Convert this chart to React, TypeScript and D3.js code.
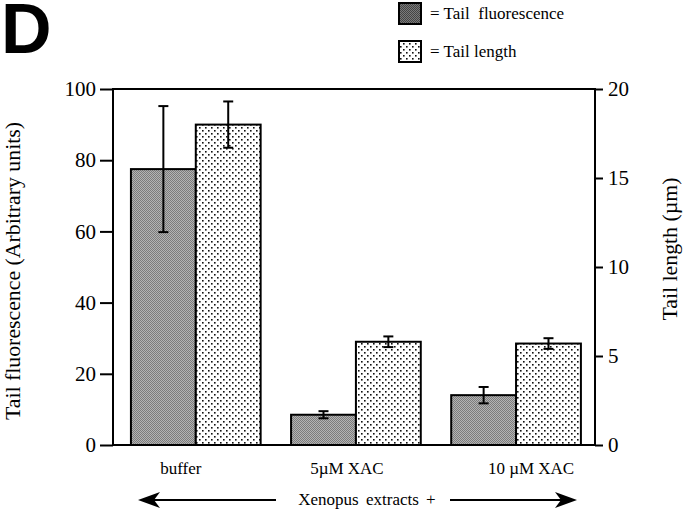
import React, { useEffect, useRef } from 'react';
import * as d3 from 'd3';

// groups along the x axis
const groups = ['buffer', '5\u00b5M XAC', '10 \u00b5M XAC'];
const groupLabelShift = [-15, -9, 15];

// tail fluorescence (arbitrary units), left axis
const fluorescence = [77.5, 8.5, 14];
const fluorescenceErr = [17.7, 1.0, 2.3];

// tail length (um), right axis
const tailLength = [18.0, 5.8, 5.7];
const tailLengthErr = [1.3, 0.3, 0.3];

const leftTicks = [0, 20, 40, 60, 80, 100];
const rightTicks = [0, 5, 10, 15, 20];

const serif = '"Liberation Serif", "Times New Roman", serif';

const App: React.FC = () => {
    const ref = useRef<SVGSVGElement>(null);

    useEffect(() => {
        document.body.style.margin = '0';
        const svg = d3.select(ref.current);
        svg.selectAll('*').remove();

        const left = 113, right = 595, top = 89, bottom = 445;

        //patterns for the two series
        const defs = svg.append('defs');
        const checker = (id: string, light: string, dark: string) => {
            const p = defs.append('pattern')
                .attr('id', id)
                .attr('patternUnits', 'userSpaceOnUse')
                .attr('width', 2).attr('height', 2);
            p.append('rect').attr('width', 2).attr('height', 2).attr('fill', light);
            p.append('rect').attr('width', 1).attr('height', 1).attr('fill', dark);
            p.append('rect').attr('x', 1).attr('y', 1).attr('width', 1).attr('height', 1).attr('fill', dark);
        };
        checker('grey', '#b4b4b4', '#7c7c7c');
        checker('greyDark', '#7a7a7a', '#444');

        const dots = defs.append('pattern')
            .attr('id', 'dots')
            .attr('patternUnits', 'userSpaceOnUse')
            .attr('width', 6).attr('height', 6);
        dots.append('rect').attr('width', 6).attr('height', 6).attr('fill', '#fff');
        dots.append('rect').attr('x', 1).attr('y', 1).attr('width', 1.6).attr('height', 1.6).attr('fill', '#111');
        dots.append('rect').attr('x', 4).attr('y', 4).attr('width', 1.6).attr('height', 1.6).attr('fill', '#111');

        //scales
        const yL = d3.scaleLinear().domain([0, 100]).range([bottom, top]);
        const yR = d3.scaleLinear().domain([0, 20]).range([bottom, top]);
        const x0 = d3.scaleBand()
            .domain(groups)
            .range([left, right])
            .paddingInner(0.19)
            .paddingOuter(0.1)
            .align(0.56);
        const x1 = d3.scaleBand()
            .domain(['fluor', 'length'])
            .range([0, x0.bandwidth()]);

        const rows = groups.map((g, i) => ({
            g,
            fl: fluorescence[i], flErr: fluorescenceErr[i],
            len: tailLength[i], lenErr: tailLengthErr[i],
        }));

        //bars
        const bars = svg.append('g');
        bars.selectAll('rect.fl')
            .data(rows)
            .enter()
            .append('rect')
            .attr('x', d => x0(d.g)! + x1('fluor')!)
            .attr('y', d => yL(d.fl))
            .attr('width', x1.bandwidth())
            .attr('height', d => bottom - yL(d.fl))
            .attr('fill', 'url(#grey)')
            .attr('stroke', '#000')
            .attr('stroke-width', 2);
        bars.selectAll('rect.len')
            .data(rows)
            .enter()
            .append('rect')
            .attr('x', d => x0(d.g)! + x1('length')!)
            .attr('y', d => yR(d.len))
            .attr('width', x1.bandwidth())
            .attr('height', d => bottom - yR(d.len))
            .attr('fill', 'url(#dots)')
            .attr('stroke', '#000')
            .attr('stroke-width', 2);

        //error bars
        const errs = rows.flatMap(d => [
            { cx: x0(d.g)! + x1('fluor')! + x1.bandwidth() / 2, hi: yL(d.fl + d.flErr), lo: yL(d.fl - d.flErr) },
            { cx: x0(d.g)! + x1('length')! + x1.bandwidth() / 2, hi: yR(d.len + d.lenErr), lo: yR(d.len - d.lenErr) },
        ]);
        const eg = svg.append('g').attr('stroke', '#000').attr('stroke-width', 2);
        errs.forEach(e => {
            eg.append('line').attr('x1', e.cx).attr('x2', e.cx).attr('y1', e.hi).attr('y2', e.lo);
            eg.append('line').attr('x1', e.cx - 5).attr('x2', e.cx + 5).attr('y1', e.hi).attr('y2', e.hi);
            eg.append('line').attr('x1', e.cx - 5).attr('x2', e.cx + 5).attr('y1', e.lo).attr('y2', e.lo);
        });

        //frame
        svg.append('rect')
            .attr('x', left).attr('y', top)
            .attr('width', right - left).attr('height', bottom - top)
            .attr('fill', 'none').attr('stroke', '#000').attr('stroke-width', 2);

        //axes
        const axL = svg.append('g')
            .attr('transform', `translate(${left},0)`)
            .call(d3.axisLeft(yL).tickValues(leftTicks).tickSize(13).tickSizeOuter(0).tickPadding(4));
        const axR = svg.append('g')
            .attr('transform', `translate(${right},0)`)
            .call(d3.axisRight(yR).tickValues(rightTicks).tickSize(8).tickSizeOuter(0).tickPadding(5));
        [axL, axR].forEach(ax => {
            ax.select('.domain').remove();
            ax.selectAll('line').attr('stroke', '#000').attr('stroke-width', 2);
            ax.selectAll('text').attr('font-family', serif).attr('font-size', 21).attr('fill', '#000');
        });

        //axis titles
        svg.append('text')
            .attr('transform', `translate(20,271) rotate(-90)`)
            .attr('text-anchor', 'middle')
            .attr('font-family', serif).attr('font-size', 20)
            .attr('textLength', 298).attr('lengthAdjust', 'spacingAndGlyphs')
            .text('Tail fluorescence (Arbitrary units)');
        svg.append('text')
            .attr('transform', `translate(677,249) rotate(-90)`)
            .attr('text-anchor', 'middle')
            .attr('font-family', serif).attr('font-size', 20)
            .attr('textLength', 143).attr('lengthAdjust', 'spacingAndGlyphs')
            .text('Tail length (\u00b5m)');

        //group labels
        svg.append('g').selectAll('text')
            .data(groups)
            .enter()
            .append('text')
            .attr('x', (g, i) => x0(g)! + x0.bandwidth() / 2 + groupLabelShift[i])
            .attr('y', 474)
            .attr('text-anchor', 'middle')
            .attr('font-family', serif).attr('font-size', 17)
            .text(g => g);

        //arrow under the axis
        const ag = svg.append('g').attr('stroke', '#000').attr('stroke-width', 2);
        ag.append('line').attr('x1', 142).attr('x2', 276).attr('y1', 500).attr('y2', 500);
        ag.append('line').attr('x1', 450).attr('x2', 572).attr('y1', 500).attr('y2', 500);
        svg.append('path').attr('d', 'M138,500 L160,492 L154,500 L160,508 Z').attr('fill', '#000');
        svg.append('path').attr('d', 'M577,500 L555,492 L561,500 L555,508 Z').attr('fill', '#000');
        svg.append('text')
            .attr('x', 367).attr('y', 505)
            .attr('text-anchor', 'middle')
            .attr('font-family', serif).attr('font-size', 17)
            .attr('word-spacing', 3)
            .text('Xenopus extracts +');

        //panel letter
        svg.append('text')
            .attr('x', 1).attr('y', 53)
            .attr('font-family', '"Liberation Sans", Arial, sans-serif')
            .attr('font-weight', 'bold').attr('font-size', 70)
            .text('D');

        //legend
        const legend = [
            { fill: 'url(#greyDark)', label: '= Tail  fluorescence', y: 3 },
            { fill: 'url(#dots)', label: '= Tail length', y: 41 },
        ];
        legend.forEach(l => {
            svg.append('rect')
                .attr('x', 399).attr('y', l.y)
                .attr('width', 22).attr('height', 21)
                .attr('fill', l.fill).attr('stroke', '#000').attr('stroke-width', 2);
            svg.append('text')
                .attr('x', 430).attr('y', l.y + 16)
                .attr('font-family', serif).attr('font-size', 17)
                .style('white-space', 'pre')
                .text(l.label);
        });
    }, []);

    return <svg ref={ref} width={684} height={512} style={{ display: 'block', background: '#fff' }}></svg>;
};

export default App;
